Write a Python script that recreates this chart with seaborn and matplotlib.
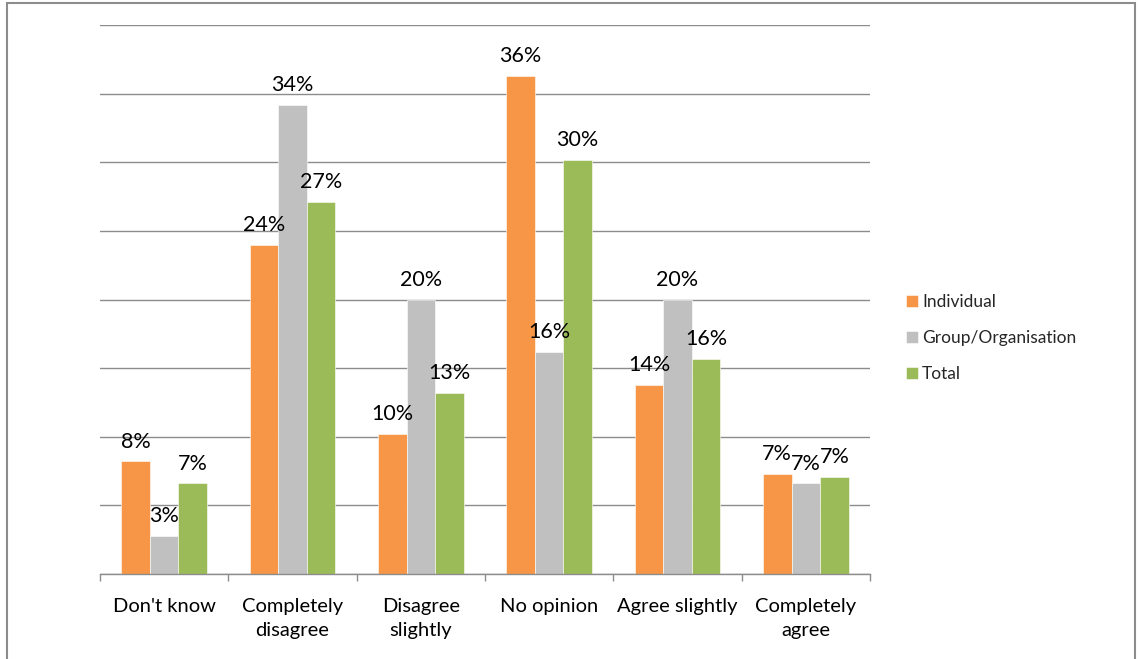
import matplotlib
matplotlib.use("Agg")
import matplotlib.pyplot as plt
from matplotlib.patches import Rectangle
import seaborn as sns
import pandas as pd

categories = ["Don't know", "Completely\ndisagree", "Disagree\nslightly",
              "No opinion", "Agree slightly", "Completely\nagree"]
series = ["Individual", "Group/Organisation", "Total"]
individual = [8.2, 24.0, 10.2, 36.3, 13.8, 7.3]
group_org = [2.8, 34.2, 20.0, 16.2, 20.0, 6.6]
total = [6.6, 27.1, 13.2, 30.2, 15.7, 7.1]
colors = ["#F79646", "#C0C0C0", "#9BBB59"]

df = pd.DataFrame({
    "category": categories * 3,
    "series": [s for s in series for _ in categories],
    "value": individual + group_org + total,
})

sns.set_theme(style="white")
plt.rcParams["font.family"] = ["Lato", "DejaVu Sans"]

fig = plt.figure(figsize=(11.38, 6.59), dpi=100)
ax = fig.add_axes([100 / 1138, 1 - 574 / 659, 770 / 1138, 549 / 659])

sns.barplot(data=df, x="category", y="value", hue="series",
            order=categories, hue_order=series, palette=colors,
            width=0.667, gap=0, saturation=1, ax=ax,
            edgecolor="white", linewidth=0.4)

ax.set_ylim(0, 40)
ax.set_xlim(-0.5, len(categories) - 0.5)
ax.set_yticks(range(0, 41, 5))
ax.yaxis.grid(True, color="#8c8c8c", linewidth=1.0)
ax.set_axisbelow(True)
ax.tick_params(axis="y", left=False, labelleft=False)
ax.set_xlabel("")
ax.set_ylabel("")

for side in ["left", "right", "top"]:
    ax.spines[side].set_visible(False)
ax.spines["bottom"].set_color("#8c8c8c")
ax.spines["bottom"].set_linewidth(1.0)

# category separators below the axis line
ax.set_xticks([i - 0.5 for i in range(len(categories) + 1)], minor=True)
ax.tick_params(axis="x", which="minor", bottom=True, length=5,
               color="#8c8c8c", width=1.0)
ax.tick_params(axis="x", which="major", bottom=False, pad=11,
               labelsize=14.5, labelcolor="black")
for lab in ax.get_xticklabels():
    lab.set_linespacing(1.55)

for cont in ax.containers:
    vals = [b.get_height() for b in cont]
    ax.bar_label(cont, labels=[f"{v:.0f}%" for v in vals], padding=7,
                 fontsize=15.5, color="black")

ax.legend(loc="center left", bbox_to_anchor=(897 / 1138, 1 - 338 / 659),
          bbox_transform=fig.transFigure, frameon=False, fontsize=12.5,
          handlelength=0.7, handleheight=0.7, handletextpad=0.25,
          labelspacing=1.15, borderpad=0)

fig.patches.append(Rectangle((7 / 1138, -0.05), 1128 / 1138, 1.05 - 3 / 659,
                             transform=fig.transFigure, fill=False,
                             edgecolor="#8c8c8c", linewidth=1.5))

fig.savefig("out.png", dpi=100)
